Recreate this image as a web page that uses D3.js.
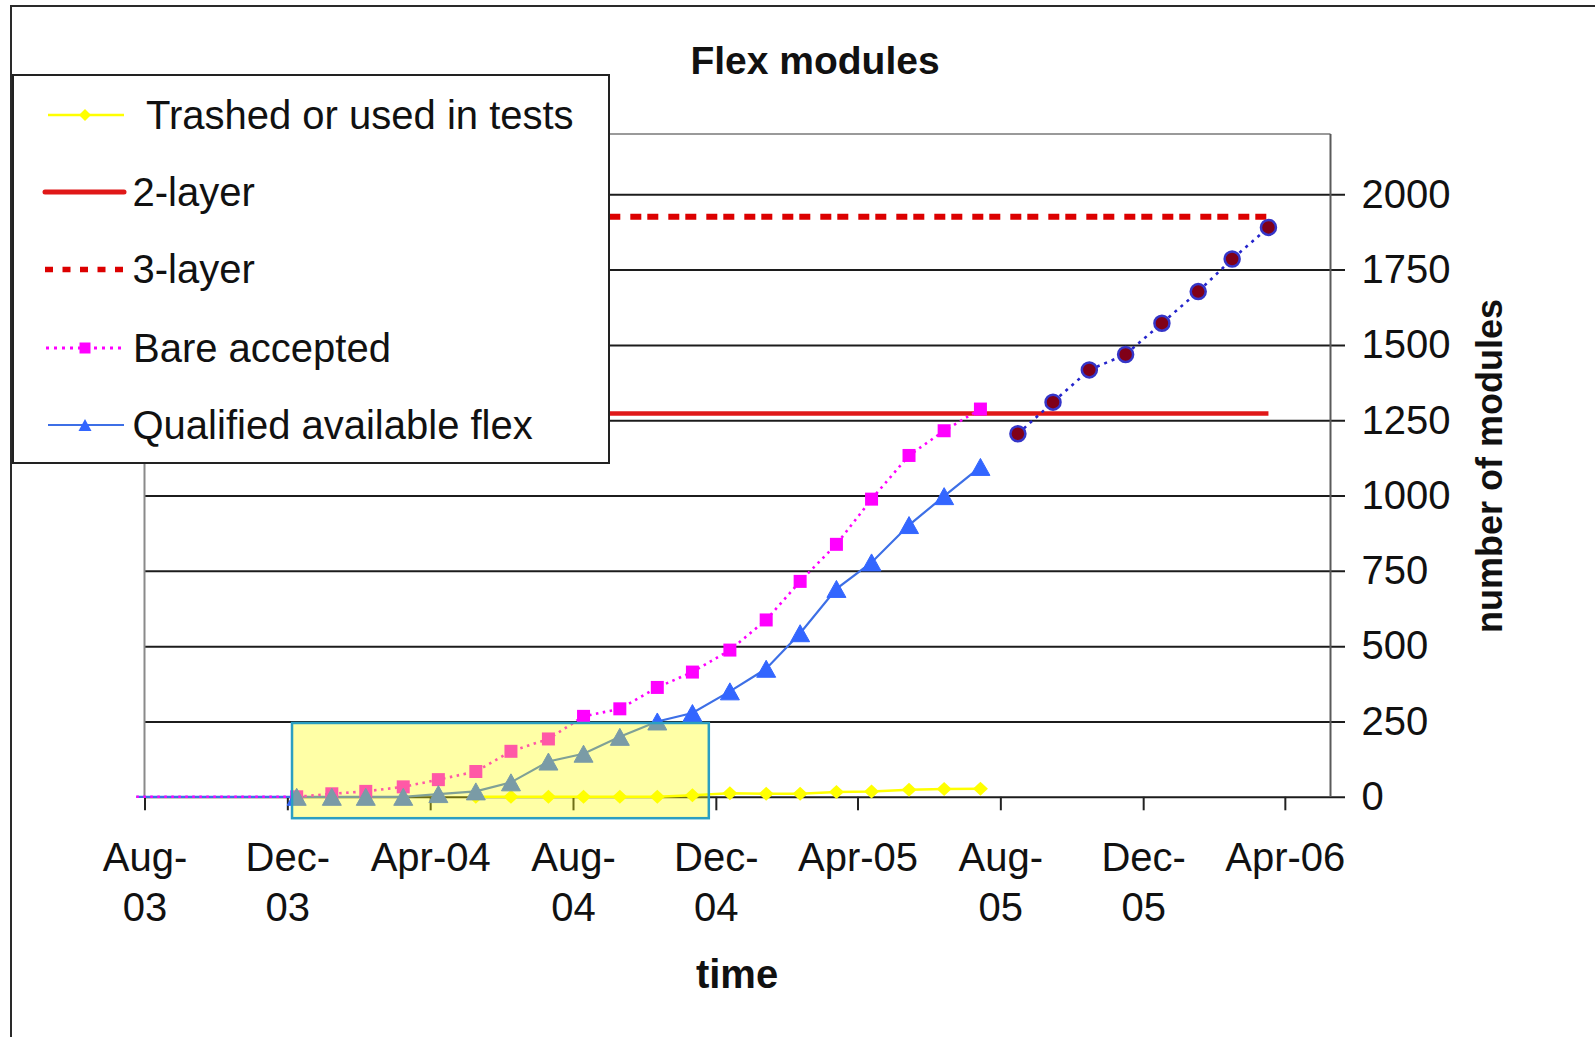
<!DOCTYPE html>
<html>
<head>
<meta charset="utf-8">
<title>Flex modules</title>
<script src="https://cdn.jsdelivr.net/npm/d3@7"></script>
<style>
  html, body { margin: 0; padding: 0; background: #ffffff; }
  svg { display: block; font-family: "Liberation Sans", Arial, Helvetica, sans-serif; }
</style>
</head>
<body>
<svg id="chart" width="1595" height="1037"></svg>
<script>
// ---- data -------------------------------------------------------------
// Snapshot dates of the flex production counts (first entry is the start of the record)
const sampleDates = [
  "2003-07-25", "2003-12-09", "2004-01-08", "2004-02-06", "2004-03-09", "2004-04-08",
  "2004-05-10", "2004-06-09", "2004-07-11", "2004-08-10", "2004-09-10", "2004-10-12",
  "2004-11-11", "2004-12-13", "2005-01-13", "2005-02-11", "2005-03-14", "2005-04-13",
  "2005-05-15", "2005-06-14", "2005-07-15"
];
const trashed = [null, null, null, null, null, null, 0, 0, 0, 0, 0, 0, 5, 12, 10, 10, 16, 18, 23, 26, 27];
const bareAccepted = [0, 0, 10, 18, 33, 57, 84, 151, 192, 267, 292, 363, 414, 487, 587, 715, 838, 988, 1133, 1215, 1287];
const qualified = [0, 0, 0, 0, 0, 9, 18, 48, 117, 143, 199, 250, 278, 350, 425, 543, 690, 778, 902, 998, 1095];

// Expected continuation of qualified flex
const projectionDates = ["2005-08-16", "2005-09-15", "2005-10-16", "2005-11-16", "2005-12-17", "2006-01-17", "2006-02-15", "2006-03-18"];
const projected = [1205, 1310, 1417, 1468, 1572, 1677, 1785, 1890];

// Required number of modules
const capacityDates = ["2003-07-25", "2006-03-18"];
const twoLayer = 1272;
const threeLayer = 1925;

// Axes
const xDomain = ["2003-08-01", "2006-05-10"];
const tickDates = ["2003-08-01", "2003-12-01", "2004-04-01", "2004-08-01", "2004-12-01", "2005-04-01", "2005-08-01", "2005-12-01", "2006-04-01"];
const tickLabels = ["Aug-\n03", "Dec-\n03", "Apr-04", "Aug-\n04", "Dec-\n04", "Apr-05", "Aug-\n05", "Dec-\n05", "Apr-06"];
const yTicks = [0, 250, 500, 750, 1000, 1250, 1500, 1750, 2000];
const yMax = 2200;

// Highlighted early-production period
const highlight = { from: "2003-12-05", to: "2004-11-25", top: 245, bottom: -71 };

const legendNames = [" Trashed or used in tests", "2-layer", "3-layer", "Bare accepted", "Qualified available flex"];

// ---- drawing ----------------------------------------------------------
const parse = d3.utcParse("%Y-%m-%d");
const svg = d3.select("#chart");

const plot = { left: 144.5, right: 1330.5, top: 134, bottom: 796.8 };
const tickOut = 14.5;

const x = d3.scaleUtc().domain(xDomain.map(parse)).range([plot.left, plot.right]);
const y = d3.scaleLinear().domain([0, yMax]).range([plot.bottom, plot.top]);

svg.append("rect").attr("width", 1595).attr("height", 1037).attr("fill", "#ffffff");
// chart frame
svg.append("rect").attr("x", 11).attr("y", 6).attr("width", 1640).attr("height", 1080)
  .attr("fill", "none").attr("stroke", "#2a2a2a").attr("stroke-width", 2);

// gridlines + right-hand value labels
const yAxis = d3.axisRight(y)
  .tickValues(yTicks)
  .tickSize(plot.right + tickOut - plot.left)
  .tickPadding(16.5)
  .tickFormat(d3.format("d"));
const yg = svg.append("g").attr("transform", `translate(${plot.left},0)`).call(yAxis);
yg.select(".domain").remove();
yg.selectAll(".tick line").attr("stroke", "#1c1c1c").attr("stroke-width", 2);
yg.selectAll(".tick text")
  .attr("fill", "#111").attr("font-size", 40)
  .attr("font-family", '"Liberation Sans", Arial, sans-serif');

// plot borders
svg.append("line").attr("x1", plot.left).attr("x2", plot.left).attr("y1", plot.top).attr("y2", plot.bottom)
  .attr("stroke", "#8a8a8a").attr("stroke-width", 2);
svg.append("line").attr("x1", plot.left).attr("x2", plot.right).attr("y1", plot.top).attr("y2", plot.top)
  .attr("stroke", "#9a9a9a").attr("stroke-width", 2);
svg.append("line").attr("x1", plot.right).attr("x2", plot.right).attr("y1", plot.top).attr("y2", plot.bottom)
  .attr("stroke", "#5a5a5a").attr("stroke-width", 2);

// time axis
const xAxis = d3.axisBottom(x)
  .tickValues(tickDates.map(parse))
  .tickSize(13.5)
  .tickSizeOuter(0)
  .tickFormat((d, i) => tickLabels[i]);
const xg = svg.append("g").attr("transform", `translate(0,${plot.bottom})`).call(xAxis);
xg.select(".domain").remove();
xg.selectAll(".tick line").attr("stroke", "#222").attr("stroke-width", 2);
xg.selectAll(".tick text").each(function (d, i) {
  const t = d3.select(this);
  const parts = tickLabels[i].split("\n");
  t.text(null).attr("y", 74).attr("dy", null)
    .attr("fill", "#111").attr("font-size", 40)
    .attr("font-family", '"Liberation Sans", Arial, sans-serif');
  parts.forEach((p, k) => {
    t.append("tspan").attr("x", 0).attr("dy", k === 0 ? 0 : 50).text(p);
  });
});

// ---- series -----------------------------------------------------------
const toPoints = (dates, vals) => dates.map((d, i) => ({ t: parse(d), v: vals[i] }));
const line = d3.line().defined(d => d.v != null).x(d => x(d.t)).y(d => y(d.v));

const ptsTrashed = toPoints(sampleDates, trashed);
const ptsBare = toPoints(sampleDates, bareAccepted);
const ptsQual = toPoints(sampleDates, qualified);
const ptsProj = toPoints(projectionDates, projected);
const capDates = capacityDates.map(parse);

const series = svg.append("g");

// capacity requirements
series.append("path").datum(capDates.map(t => ({ t, v: twoLayer })))
  .attr("d", line).attr("fill", "none").attr("stroke", "#e01818").attr("stroke-width", 4.5);
series.append("path").datum(capDates.map(t => ({ t, v: threeLayer })))
  .attr("d", line).attr("fill", "none").attr("stroke", "#dc0000").attr("stroke-width", 6)
  .attr("stroke-dasharray", "11,6,11,10");

// production curves
series.append("path").datum(ptsTrashed.filter(p => p.v != null))
  .attr("d", line).attr("fill", "none").attr("stroke", "#ffff00").attr("stroke-width", 2.5);
series.append("path").datum(ptsQual)
  .attr("d", line).attr("fill", "none").attr("stroke", "#3d6fe6").attr("stroke-width", 2.2);
series.append("path").datum(ptsBare)
  .attr("d", line).attr("fill", "none").attr("stroke", "#ff00ff").attr("stroke-width", 2.6)
  .attr("stroke-dasharray", "2.5,4.5");
series.append("path").datum(ptsProj)
  .attr("d", line).attr("fill", "none").attr("stroke", "#2525cc").attr("stroke-width", 2.6)
  .attr("stroke-dasharray", "3,5");

// marker shapes
const diamond = (w, h) => `M0,${-h / 2}L${w / 2},0L0,${h / 2}L${-w / 2},0Z`;
const square = s => `M${-s / 2},${-s / 2}h${s}v${s}h${-s}Z`;
const triangle = (w, h) => `M0,${-h / 2}L${w / 2},${h / 2}L${-w / 2},${h / 2}Z`;

const markers = svg.append("g");
// first sample is the start of the record and carries no marker
markers.selectAll("path.trashed").data(ptsTrashed.filter((p, i) => i > 0 && p.v != null)).join("path")
  .attr("transform", d => `translate(${x(d.t)},${y(d.v)})`)
  .attr("d", diamond(15, 14)).attr("fill", "#ffff00");
markers.selectAll("path.bare").data(ptsBare.filter((p, i) => i > 0)).join("path")
  .attr("transform", d => `translate(${x(d.t)},${y(d.v)})`)
  .attr("d", square(13)).attr("fill", "#ff00ff");
markers.selectAll("path.qual").data(ptsQual.filter((p, i) => i > 0)).join("path")
  .attr("transform", d => `translate(${x(d.t)},${y(d.v)})`)
  .attr("d", triangle(19, 17)).attr("fill", "#3366ff").attr("stroke", "#3366ff").attr("stroke-width", 1);
markers.selectAll("circle.proj").data(ptsProj).join("circle")
  .attr("cx", d => x(d.t)).attr("cy", d => y(d.v)).attr("r", 7.5)
  .attr("fill", "#800018").attr("stroke", "#3535c8").attr("stroke-width", 2.5);

// highlighted period
const hx0 = x(parse(highlight.from)), hx1 = x(parse(highlight.to));
const hy0 = y(highlight.top), hy1 = y(highlight.bottom);
svg.append("rect")
  .attr("x", hx0).attr("y", hy0).attr("width", hx1 - hx0).attr("height", hy1 - hy0)
  .attr("fill", "#ffff00").attr("fill-opacity", 0.35)
  .attr("stroke", "#2b9fc2").attr("stroke-width", 2.5);

// ---- legend -----------------------------------------------------------
const legend = svg.append("g");
legend.append("rect").attr("x", 13).attr("y", 75).attr("width", 596).attr("height", 388)
  .attr("fill", "#ffffff").attr("stroke", "#222").attr("stroke-width", 2);

const rowY = [115, 192, 269.5, 348, 425];
const textX = [146, 132.5, 132.5, 133, 132.5];
const symX0 = 46, symX1 = 124, symMid = 85;

// Trashed
legend.append("line").attr("x1", symX0 + 2).attr("x2", symX1).attr("y1", rowY[0]).attr("y2", rowY[0])
  .attr("stroke", "#ffff00").attr("stroke-width", 2.5);
legend.append("path").attr("transform", `translate(${symMid},${rowY[0]})`).attr("d", diamond(12, 12)).attr("fill", "#ffff00");
// 2-layer
legend.append("line").attr("x1", symX0 - 1).attr("x2", symX1).attr("y1", rowY[1]).attr("y2", rowY[1])
  .attr("stroke", "#e01818").attr("stroke-width", 5).attr("stroke-linecap", "round");
// 3-layer
legend.append("line").attr("x1", symX0 - 1).attr("x2", symX1 + 1).attr("y1", rowY[2]).attr("y2", rowY[2])
  .attr("stroke", "#dc0000").attr("stroke-width", 5.5).attr("stroke-dasharray", "8,9.5");
// Bare accepted
legend.append("line").attr("x1", symX0).attr("x2", symX1).attr("y1", rowY[3]).attr("y2", rowY[3])
  .attr("stroke", "#ff00ff").attr("stroke-width", 3).attr("stroke-dasharray", "3,5");
legend.append("path").attr("transform", `translate(${symMid},${rowY[3]})`).attr("d", square(11)).attr("fill", "#ff00ff");
// Qualified
legend.append("line").attr("x1", symX0 + 2).attr("x2", symX1).attr("y1", rowY[4]).attr("y2", rowY[4])
  .attr("stroke", "#3d6fe6").attr("stroke-width", 2);
legend.append("path").attr("transform", `translate(${symMid},${rowY[4]})`).attr("d", triangle(13, 12)).attr("fill", "#3366ff");

legend.selectAll("text").data(legendNames).join("text")
  .attr("x", (d, i) => textX[i]).attr("y", (d, i) => rowY[i] + 13.7)
  .attr("font-size", 40).attr("fill", "#111")
  .text(d => d.trim());

// ---- titles -----------------------------------------------------------
svg.append("text").attr("x", 815).attr("y", 74).attr("text-anchor", "middle")
  .attr("font-size", 39).attr("font-weight", "bold").attr("fill", "#111").text("Flex modules");
svg.append("text").attr("x", 737).attr("y", 988).attr("text-anchor", "middle")
  .attr("font-size", 40).attr("font-weight", "bold").attr("fill", "#111").text("time");
svg.append("text").attr("transform", "translate(1502,466) rotate(-90)").attr("text-anchor", "middle")
  .attr("font-size", 36).attr("font-weight", "bold").attr("fill", "#111").text("number of modules");
</script>
</body>
</html>
